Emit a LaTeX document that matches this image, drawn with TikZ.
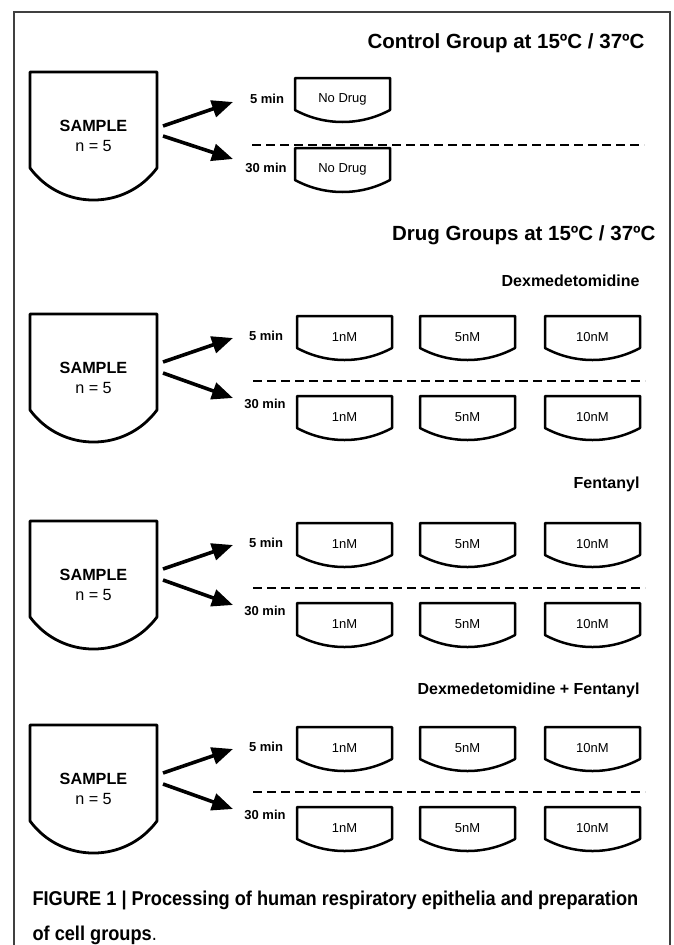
\documentclass[tikz,border=0pt]{standalone}
\usepackage{fontspec}
\setmainfont{Liberation Sans}
\newfontfamily\capfont[FakeStretch=0.91]{Liberation Sans}
\usetikzlibrary{arrows.meta}

\tikzset{
  frameline/.style={draw=black!75, line width=1.2pt},
  vessel/.style={draw=black, line width=2.8pt, line join=round},
  dosevessel/.style={draw=black, line width=2.5pt, line join=round},
  dose/.style={font=\fontsize{13}{15}\selectfont},
  samplelabel/.style={font=\fontsize{16.2}{21}\selectfont, align=center},
  timelabel/.style={font=\bfseries\fontsize{13}{15}\selectfont},
  grouptitle/.style={font=\bfseries\fontsize{20.5}{24}\selectfont, anchor=east},
  drugname/.style={font=\bfseries\fontsize{16}{19}\selectfont, anchor=east},
  splitarrow/.style={line width=3.6pt, -{Triangle[length=21pt,width=17pt]}},
  divider/.style={line width=2.6pt, dash pattern=on 9pt off 5pt},
}

% sample vessel: name, left x, top y
\newcommand\samplevessel[3]{%
  \draw[vessel] (#2,#3+96) -- (#2,#3) -- (#2+127,#3) -- (#2+127,#3+96)
    .. controls (#2+95.4,#3+138.7) and (#2+31.6,#3+138.7) .. (#2,#3+96) -- cycle;
  \node[samplelabel] (#1) at (#2+63.5,#3+64) {\textbf{SAMPLE}\\[-1pt]n = 5};
}
% dose vessel: name, left x, top y, text
\newcommand\dosevessel[4]{%
  \draw[dosevessel] (#2,#3+32) -- (#2,#3) -- (#2+95,#3) -- (#2+95,#3+32)
    .. controls (#2+65.5,#3+48) and (#2+29.5,#3+48) .. (#2,#3+32) -- cycle;
  \node[dose] (#1) at (#2+47.5,#3+21) {#4};
}
% one drug group: prefix, sample top y
\newcommand\druggroup[2]{%
  \samplevessel{#1s}{30}{#2}
  \node[timelabel] (#1t5) at (266,#2+22) {5 min};
  \node[timelabel] (#1t30) at (265,#2+90) {30 min};
  \coordinate (#1a0) at (163,#2+48);
  \coordinate (#1a1) at (233,#2+24);
  \coordinate (#1b0) at (163,#2+59);
  \coordinate (#1b1) at (233,#2+84);
  \draw[splitarrow] (#1a0) -- (#1a1);
  \draw[splitarrow] (#1b0) -- (#1b1);
  \dosevessel{#1u1}{297}{#2+2}{1nM}
  \dosevessel{#1u5}{420}{#2+2}{5nM}
  \dosevessel{#1u10}{545}{#2+2}{10nM}
  \coordinate (#1d0) at (253,#2+67);
  \coordinate (#1d1) at (645,#2+67);
  \draw[divider] (#1d0) -- (#1d1);
  \dosevessel{#1l1}{297}{#2+82}{1nM}
  \dosevessel{#1l5}{420}{#2+82}{5nM}
  \dosevessel{#1l10}{545}{#2+82}{10nM}
}

\begin{document}
\begin{tikzpicture}[x=1pt,y=-1pt]
  \useasboundingbox (0,0) rectangle (674,945);
  \fill[white] (0,0) rectangle (674,945);
  % open frame (no bottom edge)
  \draw[frameline] (14,945) -- (14,12) -- (670,12) -- (670,945);

  % control group
  \node[grouptitle] (ctitle) at (648,43) {Control Group at 15ºC / 37ºC};
  \samplevessel{cs}{30}{72}
  \node[timelabel] (ct5) at (267,99) {5 min};
  \node[timelabel] (ct30) at (266,168) {30 min};
  \coordinate (ca0) at (163,126);
  \coordinate (ca1) at (233,102);
  \coordinate (cb0) at (163,136);
  \coordinate (cb1) at (233,159);
  \draw[splitarrow] (ca0) -- (ca1);
  \draw[splitarrow] (cb0) -- (cb1);
  \dosevessel{cu}{295}{78}{No Drug}
  \coordinate (cd0) at (252,145);
  \coordinate (cd1) at (644,145);
  \draw[divider] (cd0) -- (cd1);
  \dosevessel{cl}{295}{148}{No Drug}

  % drug groups
  \node[grouptitle] (dtitle) at (659,235) {Drug Groups at 15ºC / 37ºC};
  \node[drugname] (dexname) at (643,281) {Dexmedetomidine};
  \druggroup{dx}{314}
  \node[drugname] (fenname) at (643,484) {Fentanyl};
  \druggroup{fn}{521}
  \node[drugname] (mixname) at (643,690) {Dexmedetomidine + Fentanyl};
  \druggroup{mx}{725}

  % caption
  \node[anchor=west, font=\capfont\bfseries\fontsize{20}{24}\selectfont] (cap1) at (29,900)
    {FIGURE 1 | Processing of human respiratory epithelia and preparation};
  \node[anchor=west, font=\capfont\bfseries\fontsize{20}{24}\selectfont] (cap2) at (29,935)
    {of cell groups{\mdseries .}};
\end{tikzpicture}
\end{document}
